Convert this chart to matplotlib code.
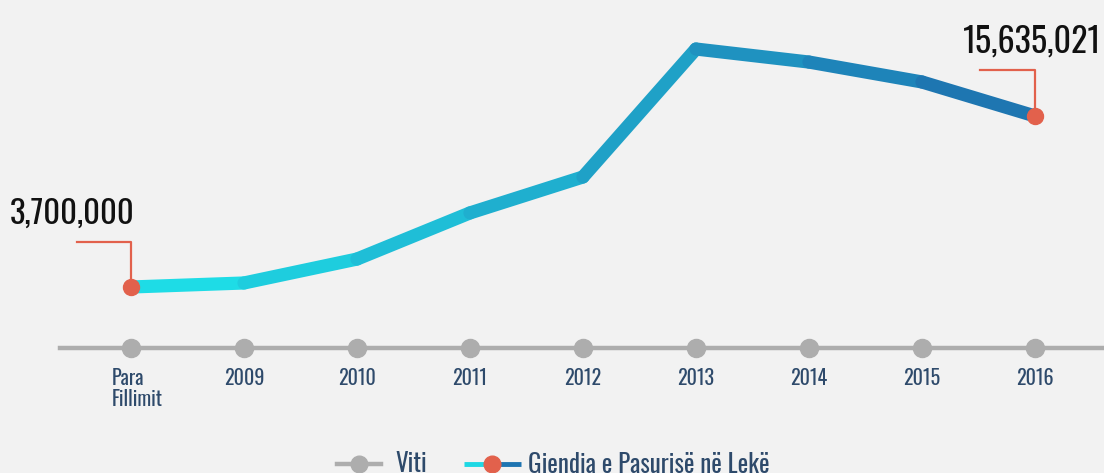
"""
Gjendja e pasurise ne leke, sipas vitit.
"""

import matplotlib
matplotlib.use("Agg")
import matplotlib.pyplot as plt
from matplotlib import font_manager
from matplotlib.collections import LineCollection
from matplotlib.colors import LinearSegmentedColormap
from matplotlib.legend_handler import HandlerBase
from matplotlib.lines import Line2D
import matplotlib.transforms as mtransforms
import numpy as np

# condensed face close to the original (Oswald), first one that is installed
installed = {f.name for f in font_manager.fontManager.ttflist}
wanted = ["Oswald", "Fjalla One", "Roboto Condensed", "Fira Sans Extra Condensed",
          "Sofia Sans Condensed", "DejaVu Sans"]
face = next(f for f in wanted if f in installed)
plt.rcParams['font.family'] = [face, 'DejaVu Sans']

# data
years = ["Para\nFillimit", "2009", "2010", "2011", "2012", "2013", "2014", "2015", "2016"]
wealth = [3700000, 3980000, 5650000, 8870000, 11380000, 20310000, 19400000, 18010000, 15635021]
first_label = "3,700,000"
last_label = "15,635,021"

BG = "#f2f2f2"
GRAY = "#adadad"
RED = "#e2614c"
NAVY = "#2e4a6b"
grad = LinearSegmentedColormap.from_list("grad", ["#1ee4ea", "#1fa8cb", "#1e6fae"])


class GradientHandler(HandlerBase):
    """Legend entry: gradient line with a red dot in the middle."""
    def create_artists(self, legend, orig_handle, xdescent, ydescent,
                       width, height, fontsize, trans):
        y = height / 2 - ydescent
        x0, x1 = -xdescent - 5, width - xdescent + 5
        xm = (x0 + x1) / 2
        lc = LineCollection([[(x0, y), (xm, y)], [(xm, y), (x1, y)]],
                            colors=[grad(0.1), grad(0.95)], linewidths=3.5,
                            transform=trans)
        dot = Line2D([xm], [y], marker="o", markersize=12, color=RED,
                     linestyle="none", transform=trans)
        return [lc, dot]


fig = plt.figure(figsize=(11.04, 4.73), dpi=100, facecolor=BG)
ax = fig.add_axes([0, 0, 1, 1])
ax.set_facecolor(BG)
for s in ax.spines.values():
    s.set_visible(False)
ax.set_xticks([])
ax.set_yticks([])

x = np.arange(len(years))
ax.set_xlim(-1.159, 8.611)
ax.set_ylim(-9281870, 23731165)
base = -557500  # where the year axis sits

# year axis
ax.axhline(base, xmin=60 / 1104, xmax=1, color=GRAY, lw=3.2, zorder=1)
ax.plot(x, [base] * len(x), "o", color=GRAY, markersize=13, zorder=2)
lbl_tr = mtransforms.blended_transform_factory(ax.transData, ax.transAxes)
for xi, lab in zip(x, years):
    if "\n" in lab:
        # two-line label is left aligned in the original
        ax.text(xi - 19 / 113, 1 - 368 / 473, lab, transform=lbl_tr, ha="left",
                va="top", fontsize=14.5, color=NAVY, linespacing=1.05)
    else:
        ax.text(xi, 1 - 368 / 473, lab, transform=lbl_tr, ha="center", va="top",
                fontsize=14.5, color=NAVY)

# gradient line
pts = np.column_stack([x, wealth])
segs = np.stack([pts[:-1], pts[1:]], axis=1)
mids = (x[:-1] + x[1:]) / 2 / x[-1]
lc = LineCollection(segs, colors=grad(mids), linewidths=9.5,
                    capstyle="round", joinstyle="round", zorder=3)
ax.add_collection(lc)

# end points and callouts
px = 69795  # value per pixel
for i, lab, dx, tx, ha, fs in [(0, first_label, -54, -121, "left", 23.5),
                               (len(x) - 1, last_label, -55, 66, "right", 24.5)]:
    xi, v = x[i], wealth[i]
    up = v + 45 * px if i == 0 else v + 46 * px
    ax.plot([xi, xi, xi + dx / 113], [v, up, up], color=RED, lw=1.6, zorder=2)
    ax.plot(xi, v, "o", color=RED, markersize=11.5, zorder=4)
    ax.text(xi + tx / 113, up + 28 * px, lab, ha=ha, va="center",
            fontsize=fs, color="#111111")

handles = [Line2D([], [], color=GRAY, lw=3.2, marker="o", markersize=12),
           Line2D([], [])]
fig.legend(handles, ["Viti", "Gjendia e Pasurisë në Lekë"],
           handler_map={handles[1]: GradientHandler()},
           loc="center", bbox_to_anchor=(0.5014, 0.018), ncol=2, frameon=False,
           fontsize=18, labelcolor=NAVY, handlelength=1.75, handletextpad=0.55,
           columnspacing=1.75)

fig.savefig("out.png", dpi=100, facecolor=BG)
